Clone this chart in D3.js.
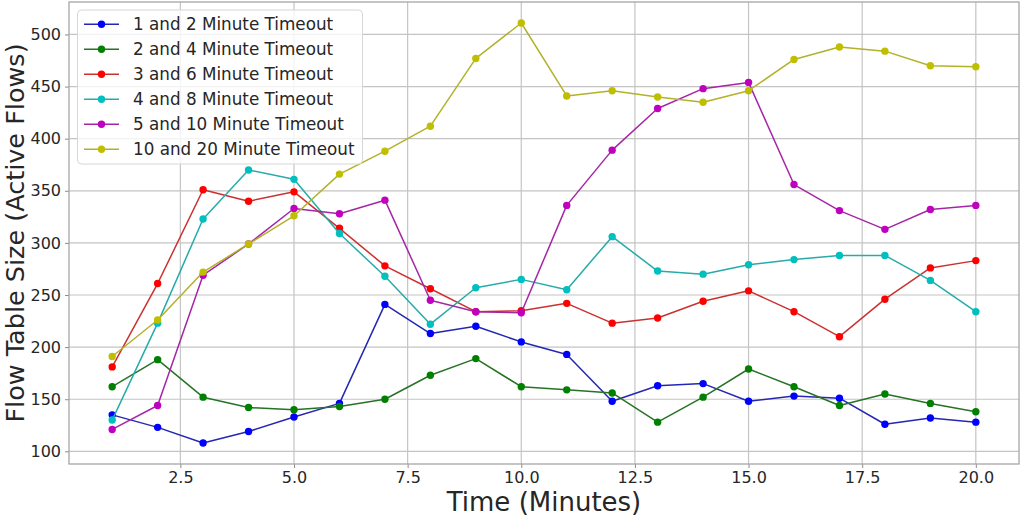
<!DOCTYPE html>
<html>
<head>
<meta charset="utf-8">
<script src="https://cdn.jsdelivr.net/npm/d3@7"></script>
<style>
  body { margin: 0; background: #fff; }
  text { font-family: "DejaVu Sans", sans-serif; fill: #262626; }
</style>
</head>
<body>
<script>
const w = 1024
const h = 516

// minutes 1..20
const minutes = [1,2,3,4,5,6,7,8,9,10,11,12,13,14,15,16,17,18,19,20]

const seriesNames = ["1 and 2 Minute Timeout", "2 and 4 Minute Timeout", "3 and 6 Minute Timeout",
  "4 and 8 Minute Timeout", "5 and 10 Minute Timeout", "10 and 20 Minute Timeout"]
const seriesColors = ["#0000ff", "#008000", "#ff0000", "#00bfbf", "#bf00bf", "#bfbf00"]
// les traits paraissent un peu plus sombres que les points
const lineColors = ["#2626b4", "#267326", "#cc3030", "#26abab", "#a526a5", "#b2b22a"]

const t1and2   = [135,123,108,119,133,146,241,213,220,205,193,148,163,165,148,153,151,126,132,128]
const t2and4   = [162,188,152,142,140,143,150,173,189,162,159,156,128,152,179,162,144,155,146,138]
const t3and6   = [181,261,351,340,349,314,278,256,234,235,242,223,228,244,254,234,210,246,276,283]
const t4and8   = [130,223,323,370,361,309,268,222,257,265,255,306,273,270,279,284,288,288,264,234]
const t5and10  = [121,144,269,299,333,328,341,245,234,233,336,389,429,448,454,356,331,313,332,336]
const t10and20 = [191,226,272,299,326,366,388,412,477,511,441,446,440,435,446,476,488,484,470,469]
const allSeries = [t1and2, t2and4, t3and6, t4and8, t5and10, t10and20]

const xTicks = [2.5, 5.0, 7.5, 10.0, 12.5, 15.0, 17.5, 20.0]
const yTicks = [100, 150, 200, 250, 300, 350, 400, 450, 500]

// plot frame
let pLeft = 69, pRight = 1019, pTop = 2, pBottom = 464

let x = d3.scaleLinear().domain([0.05, 20.95]).range([pLeft, pRight])
let y = d3.scaleLinear().domain([87.85, 531.15]).range([pBottom, pTop])

let svg = d3.select("body").append("svg").attr("width", w).attr("height", h)

// grille
svg.append("g").selectAll("line").data(xTicks).enter().append("line")
  .attr("x1", d => x(d)).attr("x2", d => x(d))
  .attr("y1", pTop).attr("y2", pBottom)
  .attr("stroke", "#c4c4c4").attr("stroke-width", 1.2)
svg.append("g").selectAll("line").data(yTicks).enter().append("line")
  .attr("x1", pLeft).attr("x2", pRight)
  .attr("y1", d => y(d)).attr("y2", d => y(d))
  .attr("stroke", "#c4c4c4").attr("stroke-width", 1.2)

// axes
let xAxis = svg.append("g").attr("transform", "translate(0," + pBottom + ")")
  .call(d3.axisBottom(x).tickValues(xTicks).tickFormat(d3.format(".1f")).tickSize(4).tickPadding(4))
let yAxis = svg.append("g").attr("transform", "translate(" + pLeft + ",0)")
  .call(d3.axisLeft(y).tickValues(yTicks).tickSize(4).tickPadding(4))
for (let ax of [xAxis, yAxis]) {
  ax.select(".domain").remove()
  ax.selectAll(".tick line").attr("stroke", "#8c8c8c")
  ax.selectAll(".tick text").style("font-size", "16px").attr("fill", "#262626")
    .style("font-family", "DejaVu Sans")
}

// lines + markers
let line = d3.line().x((d, i) => x(minutes[i])).y(d => y(d))
allSeries.forEach((vals, s) => {
  let g = svg.append("g")
  g.append("path").attr("d", line(vals))
    .attr("fill", "none").attr("stroke", lineColors[s]).attr("stroke-width", 1.5)
    .attr("stroke-linejoin", "round")
  g.selectAll("circle").data(vals).enter().append("circle")
    .attr("cx", (d, i) => x(minutes[i]))
    .attr("cy", d => y(d))
    .attr("r", 3.7)
    .attr("fill", seriesColors[s])
})

// cadre
svg.append("rect").attr("x", pLeft).attr("y", pTop)
  .attr("width", pRight - pLeft).attr("height", pBottom - pTop)
  .attr("fill", "none").attr("stroke", "#a6a6a6").attr("stroke-width", 1.3)

// labels
svg.append("text").attr("x", (pLeft + pRight) / 2).attr("y", 511)
  .attr("text-anchor", "middle").style("font-size", "26px").text("Time (Minutes)")
svg.append("text").attr("transform", "translate(24," + ((pTop + pBottom) / 2) + ") rotate(-90)")
  .attr("text-anchor", "middle").style("font-size", "25.5px").text("Flow Table Size (Active Flows)")

// legende
let leg = svg.append("g")
leg.append("rect").attr("x", 77.5).attr("y", 10).attr("width", 285).attr("height", 154)
  .attr("rx", 4).attr("fill", "#fff").attr("fill-opacity", 0.8)
  .attr("stroke", "#d6d6d6").attr("stroke-width", 1)
seriesNames.forEach((name, s) => {
  let ly = 24.3 + s * 25
  leg.append("line").attr("x1", 84).attr("x2", 119).attr("y1", ly).attr("y2", ly)
    .attr("stroke", lineColors[s]).attr("stroke-width", 1.5)
  leg.append("circle").attr("cx", 101.5).attr("cy", ly).attr("r", 3.7).attr("fill", seriesColors[s])
  leg.append("text").attr("x", 133).attr("y", ly + 6).style("font-size", "16.8px").text(name)
})
</script>
</body>
</html>
